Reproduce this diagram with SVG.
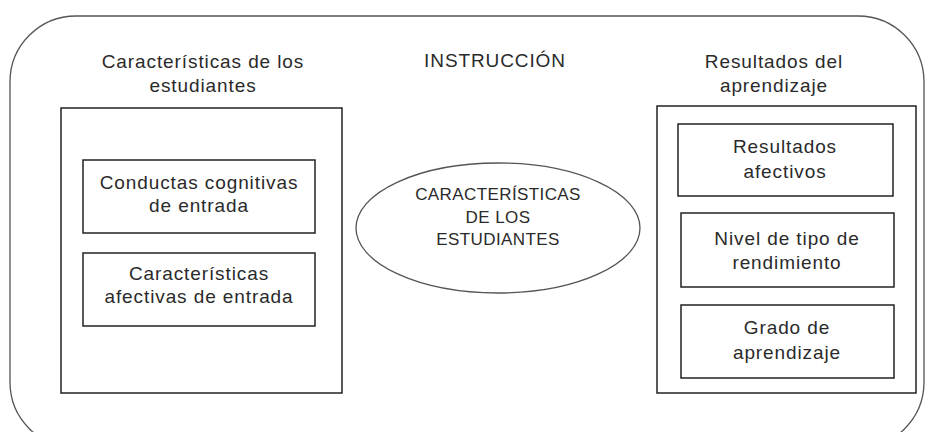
<svg xmlns="http://www.w3.org/2000/svg" width="928" height="432" viewBox="0 0 928 432">
<style>
.b{fill:#fff;stroke:#222;stroke-width:1.5}
.o{fill:#fff;stroke:#555;stroke-width:1.3}
text{font-family:"Liberation Sans",Arial,sans-serif;font-size:19px;letter-spacing:0.9px;fill:#2a2a2a;text-anchor:middle}
.s{font-size:17px;letter-spacing:0.4px}
</style>
<rect width="928" height="432" fill="#fff"/>
<g id="outer"><rect class="o" x="10" y="16" width="914" height="432" rx="66" ry="66"/></g>
<g id="titles">
<text x="203" y="68">Características de los</text>
<text x="203" y="92">estudiantes</text>
<text x="495" y="67">INSTRUCCIÓN</text>
<text x="774" y="68">Resultados del</text>
<text x="774" y="92">aprendizaje</text>
</g>
<g id="left-box"><rect class="b" x="61" y="108" width="281" height="285"/></g>
<g id="conductas"><rect class="b" x="83" y="160" width="232" height="73"/>
<text x="199" y="189">Conductas cognitivas</text><text x="199" y="212">de entrada</text></g>
<g id="afectivas"><rect class="b" x="83" y="253" width="232" height="73"/>
<text x="199" y="280">Características</text><text x="199" y="303">afectivas de entrada</text></g>
<g id="instruccion"><ellipse class="o" cx="498" cy="228" rx="142" ry="65"/>
<text class="s" x="498" y="200">CARACTERÍSTICAS</text><text class="s" x="498" y="223">DE LOS</text><text class="s" x="498" y="245">ESTUDIANTES</text></g>
<g id="right-box"><rect class="b" x="657" y="106" width="259" height="287"/></g>
<g id="res-afectivos"><rect class="b" x="678" y="124" width="215" height="72"/>
<text x="785" y="153">Resultados</text><text x="785" y="178">afectivos</text></g>
<g id="nivel"><rect class="b" x="681" y="213" width="213" height="74"/>
<text x="787" y="245">Nivel de tipo de</text><text x="787" y="269">rendimiento</text></g>
<g id="grado"><rect class="b" x="681" y="305" width="213" height="73"/>
<text x="787" y="334">Grado de</text><text x="787" y="359">aprendizaje</text></g>
<g id="connectors"></g>
</svg>
